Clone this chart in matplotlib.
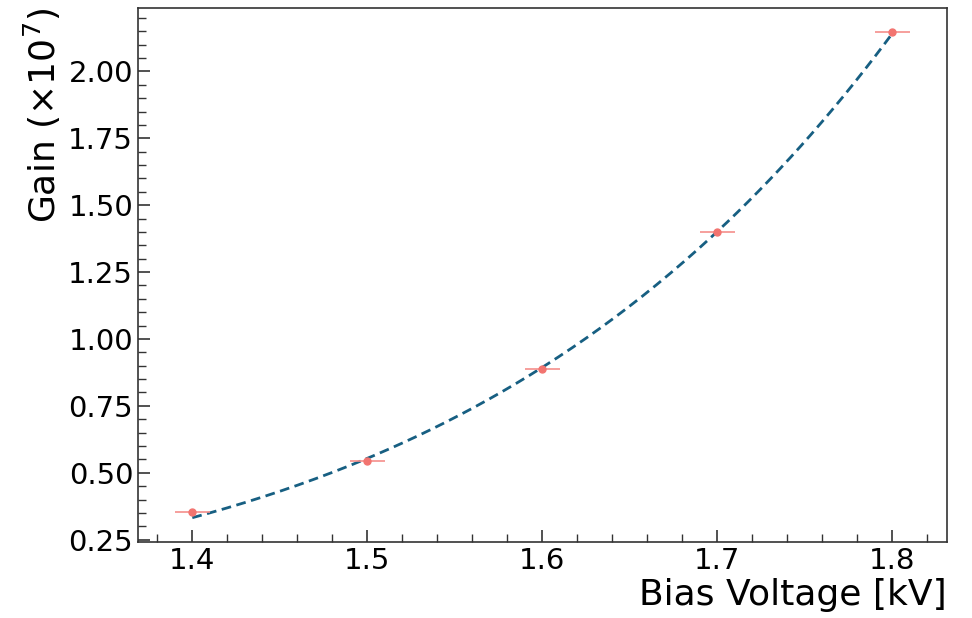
import numpy as np
import matplotlib
matplotlib.use("Agg")
import matplotlib.pyplot as plt
from matplotlib.ticker import MultipleLocator, AutoMinorLocator, FormatStrFormatter

# Measured gain vs. bias voltage
voltage_kv = [1.4, 1.5, 1.6, 1.7, 1.8]
gain_e7 = [0.354, 0.545, 0.888, 1.399, 2.146]
voltage_err = [0.01, 0.01, 0.01, 0.01, 0.01]

# Power-law fit parameters: G = a * V^b
fit_a = 0.02734
fit_b = 7.42

fig = plt.figure(figsize=(9.72, 6.18), dpi=100)
ax = fig.add_axes([0.142, 0.123, 0.832, 0.864])

v_fit = np.linspace(min(voltage_kv), max(voltage_kv), 200)
g_fit = fit_a * v_fit ** fit_b
ax.plot(v_fit, g_fit, ls=(0, (3.5, 2.0)), color="#175f82", lw=2.0, zorder=2)

ax.errorbar(voltage_kv, gain_e7, xerr=voltage_err, fmt="o", color="#f27470",
            ms=5, ecolor="#f58f8b", elinewidth=1.2, capsize=0, zorder=3)

ax.set_xlabel("Bias Voltage [kV]", fontsize=26, loc="right", labelpad=2)
ax.set_ylabel(r"Gain ($\times10^7$)", fontsize=26, loc="top", labelpad=4)

ax.xaxis.set_major_locator(MultipleLocator(0.1))
ax.xaxis.set_minor_locator(AutoMinorLocator(5))
ax.yaxis.set_major_locator(MultipleLocator(0.25))
ax.yaxis.set_minor_locator(AutoMinorLocator(5))
ax.xaxis.set_major_formatter(FormatStrFormatter("%.1f"))
ax.yaxis.set_major_formatter(FormatStrFormatter("%.2f"))

ax.tick_params(which="both", direction="in", top=False, right=False,
               labelsize=21, color="#333333")
ax.tick_params(which="major", length=8.5, width=1.2)
ax.tick_params(which="minor", length=5.5, width=1.0)
for s in ax.spines.values():
    s.set_color("#333333")
    s.set_linewidth(1.2)

fig.savefig("out.png", dpi=100)
